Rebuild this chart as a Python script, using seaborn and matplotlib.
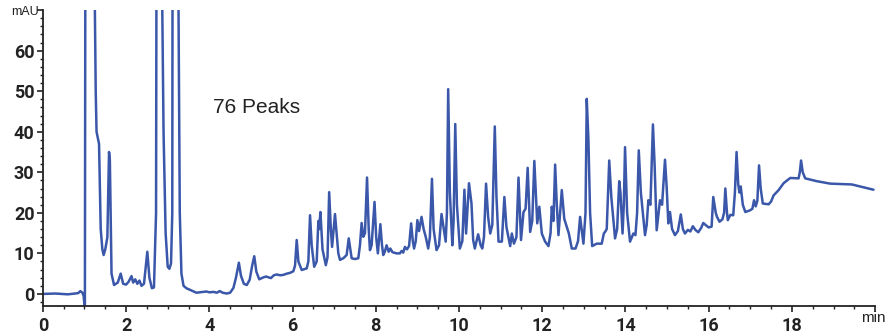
import numpy as np
import pandas as pd
import seaborn as sns
import matplotlib.pyplot as plt
from matplotlib.ticker import MultipleLocator

# Cromatograma (min, mAU)
tiempo = [0.0, 0.3, 0.6, 0.85, 0.9, 0.95, 0.98, 1.0, 1.01, 1.03, 1.06, 1.15, 1.24, 1.27, 1.29,
          1.35, 1.39, 1.43, 1.46, 1.50, 1.55, 1.59, 1.61, 1.65, 1.71, 1.8, 1.87, 1.93, 2.0,
          2.06, 2.13, 2.17, 2.22, 2.27, 2.32, 2.37, 2.43, 2.51, 2.56, 2.62, 2.67, 2.72, 2.73,
          2.76, 2.83, 2.87, 2.9, 2.95, 3.0, 3.04, 3.08, 3.11, 3.14, 3.22, 3.26, 3.29, 3.33,
          3.38, 3.45, 3.69, 3.85, 3.93, 4.0, 4.1, 4.18, 4.25, 4.32, 4.42, 4.5, 4.58, 4.64,
          4.71, 4.76, 4.83, 4.9, 4.97, 5.03, 5.08, 5.13, 5.2, 5.28, 5.36, 5.48, 5.55, 5.62,
          5.7, 5.78, 5.86, 5.94, 6.02, 6.06, 6.1, 6.14, 6.22, 6.34, 6.38, 6.42, 6.46, 6.52,
          6.58, 6.62, 6.64, 6.67, 6.72, 6.8, 6.84, 6.88, 6.92, 6.95, 6.98, 7.02, 7.06, 7.1,
          7.14, 7.22, 7.30, 7.35, 7.42, 7.5, 7.58, 7.62, 7.66, 7.7, 7.74, 7.79, 7.83, 7.86,
          7.9, 7.97, 8.01, 8.05, 8.11, 8.15, 8.18, 8.22, 8.26, 8.31, 8.35, 8.40, 8.50, 8.58,
          8.62, 8.66, 8.70, 8.75, 8.8, 8.85, 8.89, 8.92, 8.96, 9.00, 9.04, 9.10, 9.15, 9.2,
          9.26, 9.3, 9.35, 9.39, 9.46, 9.52, 9.58, 9.62, 9.68, 9.71, 9.74, 9.78, 9.84, 9.87,
          9.91, 9.95, 10.02, 10.08, 10.13, 10.17, 10.24, 10.30, 10.34, 10.38, 10.46, 10.52,
          10.56, 10.6, 10.65, 10.7, 10.75, 10.8, 10.86, 10.9, 10.95, 11.03, 11.09, 11.14,
          11.23, 11.27, 11.32, 11.38, 11.43, 11.47, 11.49, 11.55, 11.6, 11.65, 11.71, 11.76,
          11.81, 11.84, 11.88, 11.93, 11.99, 12.07, 12.15, 12.2, 12.23, 12.27, 12.31, 12.35,
          12.39, 12.47, 12.53, 12.59, 12.64, 12.71, 12.8, 12.86, 12.91, 12.99, 13.04, 13.07,
          13.11, 13.15, 13.20, 13.31, 13.43, 13.48, 13.51, 13.55, 13.61, 13.66, 13.75, 13.8,
          13.85, 13.88, 13.93, 13.96, 13.99, 14.04, 14.11, 14.19, 14.24, 14.28, 14.32, 14.37,
          14.47, 14.51, 14.55, 14.6, 14.66, 14.7, 14.75, 14.83, 14.88, 14.95, 14.99, 15.03,
          15.07, 15.12, 15.19, 15.26, 15.33, 15.38, 15.43, 15.5, 15.56, 15.62, 15.68, 15.75,
          15.82, 15.87, 15.95, 16.0, 16.07, 16.11, 16.17, 16.2, 16.26, 16.33, 16.37, 16.40,
          16.44, 16.46, 16.52, 16.59, 16.63, 16.67, 16.71, 16.74, 16.77, 16.82, 16.88, 16.99,
          17.05, 17.09, 17.13, 17.17, 17.21, 17.25, 17.30, 17.44, 17.5, 17.56, 17.68, 17.80,
          17.96, 18.16, 18.19, 18.22, 18.26, 18.32, 18.6, 18.92, 19.44, 19.68, 19.96]

senal = [0.0, 0.1, -0.1, 0.2, 0.7, 0.3, -0.5, -2.8, -2.8, 150, 300, 300, 80, 50, 40,
         37, 16, 11, 9.6, 11, 14, 35, 33, 5, 2.2, 2.8, 5, 2.5, 2.3,
         3.0, 4.4, 2.8, 3.6, 2.5, 3.3, 2.0, 2.5, 10.4, 4, 1.4, 1.6, 20, 80,
         300, 300, 70, 40, 15, 6.7, 6.2, 7.5, 20, 300, 300, 70, 20, 5,
         2.0, 1.4, 0.3, 0.5, 0.6, 0.4, 0.5, 0.3, 0.7, 0.3, 0.1, 0.3, 1.5, 4,
         7.7, 4.5, 2.5, 2.2, 3.5, 7, 9.3, 5.5, 3.6, 4.0, 4.3, 3.9, 4.6, 4.8,
         4.6, 4.7, 5.0, 5.2, 5.6, 7, 13.3, 8, 5.9, 6.3, 8, 19.4, 12, 6.7,
         8, 18, 16, 20.2, 11, 7.1, 9, 25.1, 16, 11.6, 15, 19.7, 15, 10,
         8.4, 8.8, 9.6, 13.7, 8.8, 8.6, 8.8, 12, 17.5, 14.1, 15, 28.7, 16, 10.8,
         12, 22.7, 14, 10.0, 17.2, 12, 9.6, 10.5, 12.0, 10.4, 11.2, 10.3, 10.0, 10.0,
         10.6, 10.2, 11.6, 11.0, 11.8, 17.4, 13, 11.2, 13, 18.2, 15.5, 19.0, 16, 14.1,
         11.2, 14, 28.4, 16, 10.8, 12, 19.7, 17, 12.9, 20, 50.5, 25, 12.0, 18,
         41.9, 22, 11.2, 13, 25.7, 14.9, 27.3, 22.3, 13.3, 11.2, 14.7, 12,
         11.2, 14, 27.2, 19, 14.9, 17, 41.3, 24, 12.9, 12.9, 23.9, 16.5,
         11.8, 14.9, 12.4, 14, 28.7, 18, 13.3, 20.2, 21, 31.1, 15.3, 18,
         32.8, 26, 17.4, 21.5, 14.9, 12.9, 11.8, 15, 21.5, 18, 31.9, 22,
         14.5, 25.6, 18.5, 16.5, 14.9, 11.2, 11.2, 13, 19.0, 12.4, 20, 48.1,
         38, 20, 11.8, 12.4, 12.4, 14.9, 15.3, 16, 32.9, 23.9, 13.7, 16,
         27.8, 25, 14.9, 22, 36.2, 20, 12.9, 14.9, 14.5, 20, 35.4, 25,
         14.5, 17, 23.1, 22, 41.8, 32, 15.7, 23.1, 22, 33.1, 26.4, 17.4,
         20.2, 16, 14.5, 15.5, 19.6, 16, 14.9, 15.8, 15.4, 16.7, 15.8, 15.2,
         16.3, 17.5, 16.8, 16.4, 16.6, 23.9, 20, 19, 17.8, 18.4, 20, 26.0,
         20, 18.2, 19.5, 19.4, 25, 35.0, 27, 25, 26.5, 22, 20.2, 20.6,
         21, 23.1, 21.6, 23, 31.7, 26, 22.3, 22.1, 22.8, 24.3, 25.6, 27.3,
         28.6, 28.5, 30, 32.9, 30, 28.5, 27.8, 27.2, 27.0, 26.4, 25.7]

ticks_x = [0, 2, 4, 6, 8, 10, 12, 14, 16, 18, 20]
etiquetas_x = ['0', '2', '4', '6', '8', '10', '12', '14', '16', '18', '']
ticks_y = [0, 10, 20, 30, 40, 50, 60, 70]
etiquetas_y = ['0', '10', '20', '30', '40', '50', '60', '']

datos = pd.DataFrame({'tiempo': tiempo, 'senal': senal})

sns.set_style("ticks")
plt.rcParams['font.family'] = ['Roboto', 'DejaVu Sans']

fig = plt.figure(figsize=(8.93, 3.36), dpi=100)
ax = fig.add_axes([0.048, 0.089, 0.932, 0.881])

sns.lineplot(data=datos, x='tiempo', y='senal', ax=ax, color='#3a57aa',
             linewidth=1.8, estimator=None, sort=False)

ax.set_xlim(0, 20)
ax.set_ylim(-3, 70)
ax.set_xlabel('')
ax.set_ylabel('')
sns.despine(ax=ax)

ax.set_xticks(ticks_x)
ax.set_xticklabels(etiquetas_x)
ax.set_yticks(ticks_y)
ax.set_yticklabels(etiquetas_y)
ax.xaxis.set_minor_locator(MultipleLocator(0.5))
ax.yaxis.set_minor_locator(MultipleLocator(2))
ax.tick_params(which='major', length=4, width=1.2, labelsize=13, colors='#222222')
ax.tick_params(axis='y', which='major', pad=2)
ax.tick_params(axis='x', which='major', pad=4)
ax.tick_params(which='minor', length=2.5, width=1.0, color='#222222')
for lbl in ax.get_xticklabels() + ax.get_yticklabels():
    lbl.set_fontweight('bold')
for s in ['left', 'bottom']:
    ax.spines[s].set_linewidth(1.3)
    ax.spines[s].set_color('#222222')

fig.text(11 / 893, 1 - 12 / 336, 'mAU', ha='left', va='center',
         fontsize=9, color='#222222', family=['Liberation Sans', 'DejaVu Sans'])
ax.text(19.95, -5.9, 'min', ha='center', va='center', fontsize=11, color='#222222',
        family=['Liberation Sans', 'DejaVu Sans'])
ax.text(4.1, 46, '76 Peaks', ha='left', va='center', fontsize=15, color='#222222',
        family=['Liberation Sans', 'DejaVu Sans'])

fig.savefig('out.png', dpi=100)
